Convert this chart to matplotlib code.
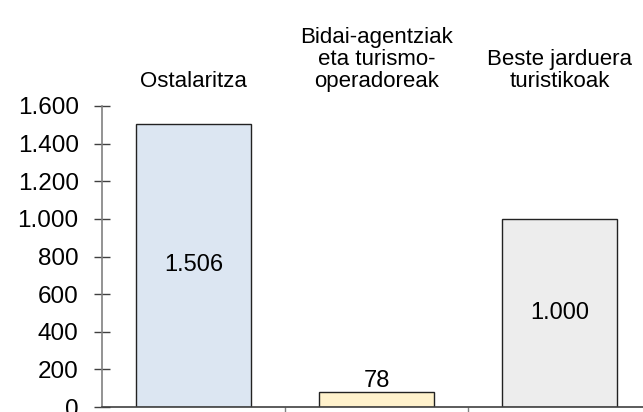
import matplotlib
matplotlib.use("Agg")
import matplotlib.pyplot as plt

categories = ["Ostalaritza", "Bidai-agentziak\neta turismo-\noperadoreak", "Beste jarduera\nturistikoak"]
values = [1506, 78, 1000]
colors = ["#dce6f2", "#fff2cc", "#ededed"]
yticks = [0, 200, 400, 600, 800, 1000, 1200, 1400, 1600]

plt.rcParams['font.family'] = ['Liberation Sans', 'DejaVu Sans']

def fmt(v):
    return f"{v:,}".replace(",", ".")

fig = plt.figure(figsize=(6.43, 4.12), dpi=100)
ax = fig.add_axes([102 / 643, 5 / 412, 549 / 643, 301 / 412])

x = range(len(values))
bars = ax.bar(x, values, width=0.63, color=colors, edgecolor="#222222", linewidth=1.0)

for i, (b, v) in enumerate(zip(bars, values)):
    if v < 200:
        ax.text(i, v + 2, fmt(v), ha="center", va="bottom", fontsize=17)
    else:
        ax.text(i, v / 2, fmt(v), ha="center", va="center", fontsize=17)
    ax.text(i, 1.045, categories[i], transform=ax.get_xaxis_transform(),
            ha="center", va="bottom", fontsize=16, linespacing=1.08)

ax.set_xlim(-0.5, 2.5)
ax.set_ylim(0, 1600)
ax.set_yticks(yticks)
ax.set_yticklabels([fmt(t) for t in yticks], fontsize=17.5)
ax.set_xticks([0.5, 1.5])
ax.set_xticklabels([])
ax.tick_params(axis="y", direction="inout", length=11.5, color="#404040", width=1, pad=11)
ax.tick_params(axis="x", direction="out", length=6, color="#808080", width=1)

for s in ["top", "right"]:
    ax.spines[s].set_visible(False)
ax.spines["left"].set_color("#808080")
ax.spines["bottom"].set_color("#404040")
ax.spines["left"].set_linewidth(1.2)
ax.spines["bottom"].set_linewidth(1.2)

fig.savefig("out.png", dpi=100)
